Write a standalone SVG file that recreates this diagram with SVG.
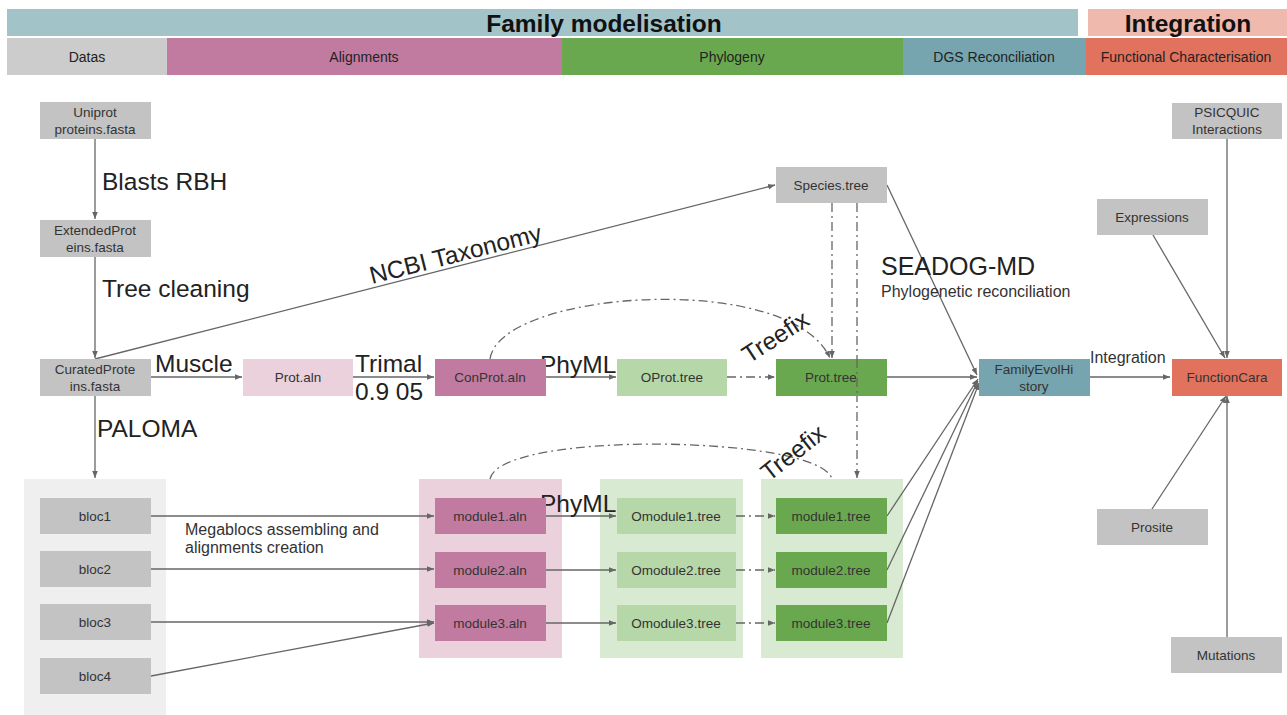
<svg xmlns="http://www.w3.org/2000/svg" width="1287" height="715" viewBox="0 0 1287 715">
<style>
text{font-family:"Liberation Sans",Arial,sans-serif;fill:#222}
.h{font-size:14px;text-anchor:middle}
.big{font-size:24.5px;font-weight:bold;text-anchor:middle;fill:#111}
.n{font-size:13.5px;text-anchor:middle;fill:#333}
.lbl{font-size:24.5px;fill:#222}
.sm{font-size:16px;fill:#333}
.gray{fill:#c3c3c3}
.ln{stroke:#666;stroke-width:1.3;fill:none}
.dd{stroke:#666;stroke-width:1.3;fill:none;stroke-dasharray:9,4,2,4}
</style>
<defs>
<marker id="a" viewBox="0 0 10 10" refX="10" refY="5" markerWidth="7" markerHeight="7" orient="auto-start-reverse" markerUnits="userSpaceOnUse"><path d="M0,1 L10,5 L0,9 z" fill="#666"/></marker>
</defs>
<rect width="1287" height="715" fill="#fff"/>
<g id="header">
<rect x="7" y="9" width="1071" height="27" fill="#a2c4c9"/>
<text class="big" x="604" y="32">Family modelisation</text>
<rect x="1088" y="9" width="199" height="27" fill="#efb9ae"/>
<text class="big" x="1188" y="32">Integration</text>
<rect x="7" y="38" width="160" height="37" fill="#cccccc"/>
<text class="h" x="87" y="62">Datas</text>
<rect x="167" y="38" width="395" height="37" fill="#c27ba0"/>
<text class="h" x="364" y="62">Alignments</text>
<rect x="562" y="38" width="341" height="37" fill="#6aa84f"/>
<text class="h" x="732" y="62">Phylogeny</text>
<rect x="903" y="38" width="183" height="37" fill="#76a5af"/>
<text class="h" x="994" y="62">DGS Reconciliation</text>
<rect x="1086" y="38" width="201" height="37" fill="#e0725e"/>
<text class="h" x="1186" y="62">Functional Characterisation</text>
</g>
<g id="groups">
<rect id="blocs" x="24" y="479" width="142" height="236" fill="#efefef"/>
<rect id="modules" x="419" y="479" width="143" height="179" fill="#ead1dc"/>
<rect id="omodules" x="600" y="479" width="143" height="179" fill="#d9ead3"/>
<rect id="trees" x="761" y="479" width="142" height="179" fill="#d9ead3"/>
</g>
<g id="connectors">
<line class="ln" x1="95" y1="139" x2="95" y2="219" marker-end="url(#a)"/>
<line class="ln" x1="95" y1="257" x2="95" y2="358" marker-end="url(#a)"/>
<line class="ln" x1="95" y1="359" x2="775" y2="185" marker-end="url(#a)"/>
<line class="ln" x1="151" y1="377" x2="242" y2="377" marker-end="url(#a)"/>
<line class="ln" x1="353" y1="377" x2="434" y2="377" marker-end="url(#a)"/>
<line class="ln" x1="546" y1="377" x2="616" y2="377" marker-end="url(#a)"/>
<line class="dd" x1="727" y1="377" x2="775" y2="377" marker-end="url(#a)"/>
<path class="dd" d="M490,359 C500,290 790,270 830,358" marker-end="url(#a)"/>
<line class="dd" x1="832" y1="203" x2="832" y2="358" marker-end="url(#a)"/>
<line class="dd" x1="857" y1="203" x2="857" y2="478" marker-end="url(#a)"/>
<line class="ln" x1="887" y1="377" x2="977" y2="377" marker-end="url(#a)"/>
<line class="ln" x1="887" y1="185" x2="977" y2="375" marker-end="url(#a)"/>
<line class="ln" x1="1090" y1="377" x2="1170" y2="377" marker-end="url(#a)"/>
<line class="ln" x1="1227" y1="139" x2="1227" y2="358" marker-end="url(#a)"/>
<line class="ln" x1="1153" y1="235" x2="1225" y2="358" marker-end="url(#a)"/>
<line class="ln" x1="1152" y1="509" x2="1226" y2="396" marker-end="url(#a)"/>
<line class="ln" x1="1227" y1="637" x2="1227" y2="396" marker-end="url(#a)"/>
<line class="ln" x1="95" y1="396" x2="95" y2="478" marker-end="url(#a)"/>
<line class="ln" x1="151" y1="516" x2="434" y2="516" marker-end="url(#a)"/>
<line class="ln" x1="151" y1="569" x2="434" y2="569" marker-end="url(#a)"/>
<line class="ln" x1="151" y1="622" x2="434" y2="622" marker-end="url(#a)"/>
<line class="ln" x1="151" y1="676" x2="434" y2="623" marker-end="url(#a)"/>
<line class="ln" x1="546" y1="516" x2="616" y2="516" marker-end="url(#a)"/>
<line class="ln" x1="546" y1="570" x2="616" y2="570" marker-end="url(#a)"/>
<line class="ln" x1="546" y1="623" x2="616" y2="623" marker-end="url(#a)"/>
<line class="dd" x1="736" y1="516" x2="775" y2="516" marker-end="url(#a)"/>
<line class="dd" x1="736" y1="570" x2="775" y2="570" marker-end="url(#a)"/>
<line class="dd" x1="736" y1="623" x2="775" y2="623" marker-end="url(#a)"/>
<path class="dd" d="M490,479 C500,430 820,435 832,479"/>
<line class="ln" x1="887" y1="516" x2="978" y2="379" marker-end="url(#a)"/>
<line class="ln" x1="887" y1="570" x2="978" y2="381" marker-end="url(#a)"/>
<line class="ln" x1="887" y1="623" x2="979" y2="383" marker-end="url(#a)"/>
</g>
<g id="labels">
<text class="lbl" x="102" y="190">Blasts RBH</text>
<text class="lbl" x="102" y="297">Tree cleaning</text>
<text class="lbl" transform="translate(372,284) rotate(-14.3)">NCBI Taxonomy</text>
<text class="lbl" x="155" y="372">Muscle</text>
<text class="lbl" x="355" y="372">Trimal</text>
<text class="lbl" x="355" y="400">0.9 05</text>
<text class="lbl" x="540" y="373">PhyML</text>
<text class="lbl" transform="translate(749,364) rotate(-33)">Treefix</text>
<text x="881" y="275" style="font-size:25px;fill:#222">SEADOG-MD</text>
<text class="sm" x="881" y="297">Phylogenetic reconciliation</text>
<text class="sm" x="1090" y="363">Integration</text>
<text class="lbl" x="97" y="437">PALOMA</text>
<text class="sm" x="185" y="535">Megablocs assembling and</text>
<text class="sm" x="185" y="553">alignments creation</text>
<text class="lbl" x="540" y="512">PhyML</text>
<text class="lbl" transform="translate(769,482) rotate(-38)">Treefix</text>
</g>
<g id="n-uniprot"><rect class="gray" x="40" y="102" width="111" height="37"/><text class="n" x="95" y="117">Uniprot</text><text class="n" x="95" y="134">proteins.fasta</text></g>
<g id="n-extended"><rect class="gray" x="40" y="220" width="111" height="37"/><text class="n" x="95" y="235">ExtendedProt</text><text class="n" x="95" y="252">eins.fasta</text></g>
<g id="n-curated"><rect class="gray" x="40" y="359" width="111" height="37"/><text class="n" x="95" y="374">CuratedProte</text><text class="n" x="95" y="391">ins.fasta</text></g>
<g id="n-protaln"><rect x="243" y="359" width="110" height="37" fill="#ead1dc"/><text class="n" x="298" y="382">Prot.aln</text></g>
<g id="n-conprot"><rect x="435" y="359" width="111" height="37" fill="#c27ba0"/><text class="n" x="490" y="382">ConProt.aln</text></g>
<g id="n-oprot"><rect x="617" y="359" width="110" height="37" fill="#b6d7a8"/><text class="n" x="672" y="382">OProt.tree</text></g>
<g id="n-prottree"><rect x="776" y="359" width="111" height="37" fill="#6aa84f"/><text class="n" x="831" y="382">Prot.tree</text></g>
<line class="dd" x1="857" y1="359" x2="857" y2="396"/>
<g id="n-species"><rect class="gray" x="776" y="167" width="111" height="36"/><text class="n" x="831" y="190">Species.tree</text></g>
<g id="n-family"><rect x="979" y="359" width="111" height="37" fill="#76a5af"/><text class="n" x="1034" y="374">FamilyEvolHi</text><text class="n" x="1034" y="391">story</text></g>
<g id="n-function"><rect x="1172" y="359" width="110" height="37" fill="#e0725e"/><text class="n" x="1227" y="382">FunctionCara</text></g>
<g id="n-psicquic"><rect class="gray" x="1172" y="103" width="110" height="36"/><text class="n" x="1227" y="117">PSICQUIC</text><text class="n" x="1227" y="134">Interactions</text></g>
<g id="n-expressions"><rect class="gray" x="1097" y="199" width="111" height="36"/><text class="n" x="1152" y="222">Expressions</text></g>
<g id="n-prosite"><rect class="gray" x="1097" y="509" width="111" height="36"/><text class="n" x="1152" y="532">Prosite</text></g>
<g id="n-mutations"><rect class="gray" x="1171" y="637" width="111" height="36"/><text class="n" x="1226" y="660">Mutations</text></g>
<g id="n-bloc1"><rect class="gray" x="40" y="498" width="111" height="36"/><text class="n" x="95" y="521">bloc1</text></g>
<g id="n-bloc2"><rect class="gray" x="40" y="551" width="111" height="36"/><text class="n" x="95" y="574">bloc2</text></g>
<g id="n-bloc3"><rect class="gray" x="40" y="604" width="111" height="36"/><text class="n" x="95" y="627">bloc3</text></g>
<g id="n-bloc4"><rect class="gray" x="40" y="658" width="111" height="36"/><text class="n" x="95" y="681">bloc4</text></g>
<g id="n-module1aln"><rect x="435" y="498" width="111" height="36" fill="#c27ba0"/><text class="n" x="490" y="521">module1.aln</text></g>
<g id="n-module2aln"><rect x="435" y="552" width="111" height="36" fill="#c27ba0"/><text class="n" x="490" y="575">module2.aln</text></g>
<g id="n-module3aln"><rect x="435" y="605" width="111" height="36" fill="#c27ba0"/><text class="n" x="490" y="628">module3.aln</text></g>
<g id="n-omodule1"><rect x="617" y="498" width="119" height="36" fill="#b6d7a8"/><text class="n" x="676" y="521">Omodule1.tree</text></g>
<g id="n-omodule2"><rect x="617" y="552" width="119" height="36" fill="#b6d7a8"/><text class="n" x="676" y="575">Omodule2.tree</text></g>
<g id="n-omodule3"><rect x="617" y="605" width="119" height="36" fill="#b6d7a8"/><text class="n" x="676" y="628">Omodule3.tree</text></g>
<g id="n-module1tree"><rect x="776" y="498" width="111" height="36" fill="#6aa84f"/><text class="n" x="831" y="521">module1.tree</text></g>
<g id="n-module2tree"><rect x="776" y="552" width="111" height="36" fill="#6aa84f"/><text class="n" x="831" y="575">module2.tree</text></g>
<g id="n-module3tree"><rect x="776" y="605" width="111" height="36" fill="#6aa84f"/><text class="n" x="831" y="628">module3.tree</text></g>
</svg>
